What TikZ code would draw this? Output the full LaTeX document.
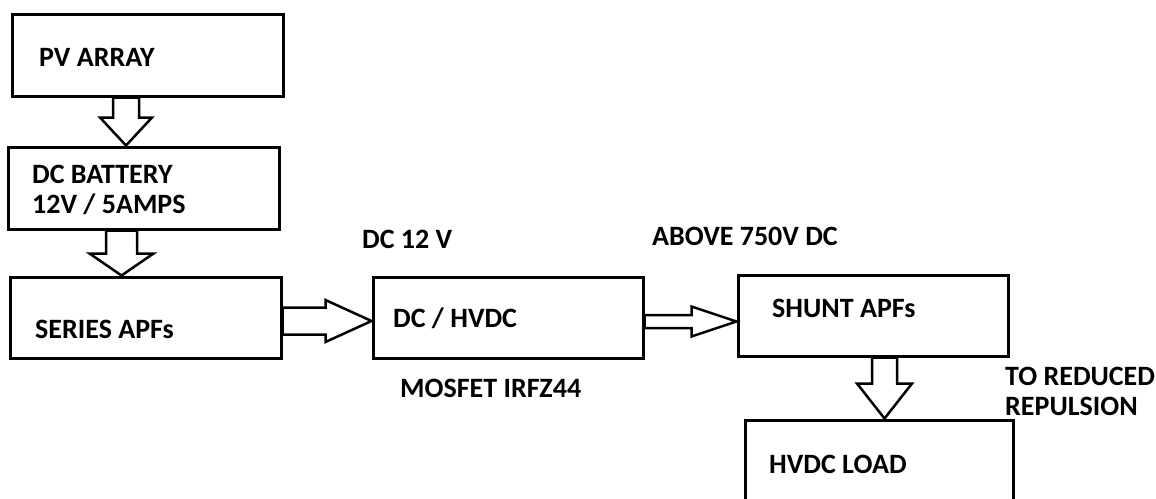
\documentclass[tikz,border=0pt]{standalone}
\usepackage{fontspec}
\setmainfont{Carlito}
\usetikzlibrary{calc}
\tikzset{
    box/.style={draw, line width=3pt, inner sep=0pt},
    txt/.style={anchor=base west, inner sep=0pt, font=\bfseries\fontsize{28}{32}\selectfont},
    % shaft half width / head half width / head length
    fatdown/.style n args={3}{line width=2.5pt, to path={let \p1=(\tikztostart), \p2=(\tikztotarget) in
        (\x1-#1pt,\y1) -- (\x1-#1pt,\y2+#3pt) -- (\x1-#2pt,\y2+#3pt) -- (\x2,\y2)
        -- (\x1+#2pt,\y2+#3pt) -- (\x1+#1pt,\y2+#3pt) -- (\x1+#1pt,\y1) -- cycle}},
    fatright/.style n args={3}{line width=2.5pt, to path={let \p1=(\tikztostart), \p2=(\tikztotarget) in
        (\x1,\y1+#1pt) -- (\x2-#3pt,\y1+#1pt) -- (\x2-#3pt,\y1+#2pt) -- (\x2,\y2)
        -- (\x2-#3pt,\y1-#2pt) -- (\x2-#3pt,\y1-#1pt) -- (\x1,\y1-#1pt) -- cycle}}
}
\begin{document}
\begin{tikzpicture}[x=1pt, y=-1pt]
    \clip (0,0) rectangle (1156,498);
    \fill[white] (0,0) rectangle (1156,498);
    % blocks
    \node[box, minimum width=271pt, minimum height=82pt] (pv) at (147.5,55) {};
    \node[box, minimum width=271pt, minimum height=82pt] (bat) at (143.5,188) {};
    \node[box, minimum width=271pt, minimum height=81pt] (series) at (145.5,317.5) {};
    \node[box, minimum width=270pt, minimum height=81pt] (conv) at (508,317.5) {};
    \node[box, minimum width=270pt, minimum height=81pt] (shunt) at (873,315.5) {};
    \node[box, minimum width=268pt, minimum height=110pt] (load) at (879,475) {};
    % texts
    \node[txt] (tpv) at (39,66) {PV ARRAY};
    \node[txt] (tbat) at (32,183) {DC BATTERY};
    \node[txt] (tbat2) at (32,213) {12V / 5AMPS};
    \node[txt] (tseries) at (35,338) {SERIES APFs};
    \node[txt] (tdc) at (362,248) {DC 12 V};
    \node[txt] (tconv) at (393,327) {DC / HVDC};
    \node[txt] (tmos) at (400,397) {MOSFET IRFZ44};
    \node[txt] (tabove) at (652,245) {ABOVE 750V DC};
    \node[txt] (tshunt) at (772,317) {SHUNT APFs};
    \node[txt] (tred) at (1005,385) {TO REDUCED};
    \node[txt] (trep) at (1005,415) {REPULSION};
    \node[txt] (tload) at (769,473) {HVDC LOAD};
    % block arrows
    \draw[fatdown={13}{26}{28}] (126,0 |- pv.south) to (126,0 |- bat.north);
    \draw[fatdown={15.5}{32}{22}] (121.5,0 |- bat.south) to (121.5,0 |- series.north);
    \draw[fatright={13.5}{21}{46}] (series.east |- 0,321) to (conv.west |- 0,321);
    \draw[fatright={6.5}{15}{45}] (conv.east |- 0,321.5) to (shunt.west |- 0,321.5);
    \draw[fatdown={12.5}{27.5}{35}] (884.5,0 |- shunt.south) to (884.5,0 |- load.north);
\end{tikzpicture}
\end{document}
